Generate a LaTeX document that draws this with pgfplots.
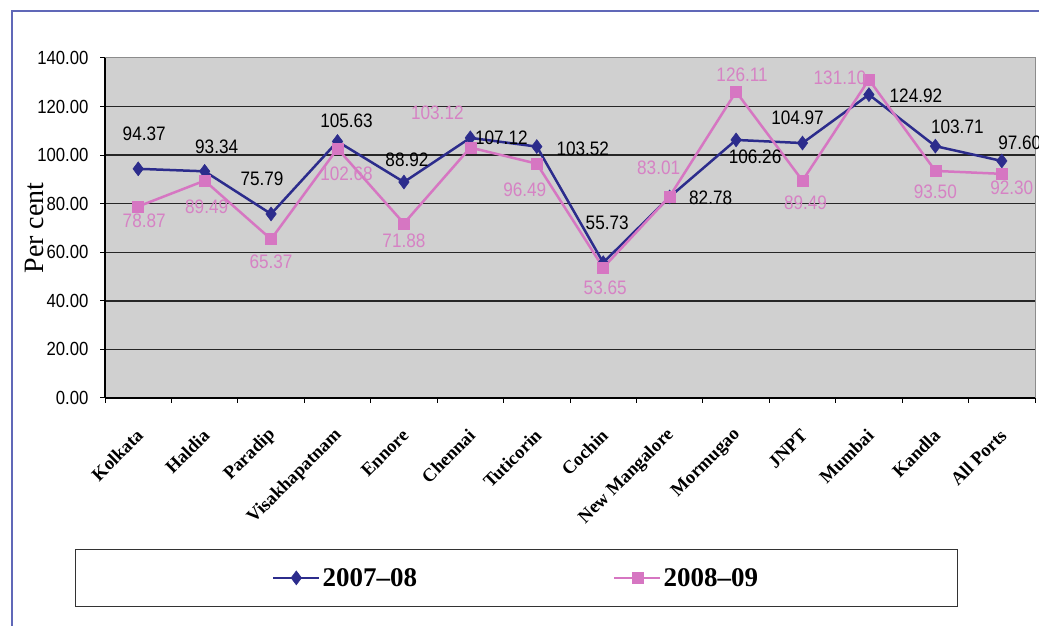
\documentclass[border=0pt]{standalone}
\usepackage{fontspec}
\setmainfont{Liberation Serif}
\newfontfamily\numfont[FakeStretch=0.88]{Liberation Sans}
\usepackage{pgfplots}
\pgfplotsset{compat=1.18}
\usepackage{pgfplotstable}

\definecolor{seriesA}{RGB}{44,44,140}
\definecolor{seriesB}{RGB}{214,118,194}
\definecolor{labelB}{RGB}{214,130,196}
\definecolor{plotbg}{RGB}{208,208,208}
\definecolor{framecol}{RGB}{96,104,184}

% port index, value (per cent), label offset dx, dy
\pgfplotstableread{
x  y      dx  dy
1  94.37   6  35
2  93.34  12  25
3  75.79  -9  35
4  105.63  9  21
5  88.92   3  22
6  107.12 31   0
7  103.52 46  -2
8  55.73   4  40
9  82.78  41  -1
10 106.26 19 -17
11 104.97 -5  25
12 124.92 47  -1
13 103.71 22  19
14 97.60  18  18
}\tabA

\pgfplotstableread{
x  y      dx  dy
1  78.87   6 -14
2  89.49   2 -26
3  65.37   0 -23
4  102.68  9 -25
5  71.88   0 -17
6  103.12 -33 35
7  96.49 -12 -26
8  53.65   2 -20
9  83.01 -11  29
10 126.11  6  17
11 89.49   3 -22
12 131.10 -29  2
13 93.50   0 -21
14 92.30  10 -14
}\tabB

\begin{document}
\begin{tikzpicture}
\useasboundingbox (0pt,0pt) rectangle (1039pt,626pt);
\draw[framecol, line width=1.4pt] (12pt,-10pt) -- (12pt,615pt) -- (1050pt,615pt);
\begin{axis}[
  at={(105pt,228pt)}, anchor=south west,
  scale only axis, width=930pt, height=340pt,
  xmin=0.5, xmax=14.5, ymin=0, ymax=140,
  axis background/.style={fill=plotbg, draw=black!45, line width=1pt},
  axis x line*=bottom, axis y line*=left,
  axis line style={black, line width=1.2pt},
  tick align=outside,
  tick style={black, line width=1pt},
  major tick length=5pt,
  % tick marks between the categories
  xtick={0.5,1.5,...,14.5},
  xticklabels={},
  % category names
  extra x ticks={1,2,...,14},
  extra x tick labels={Kolkata,Haldia,Paradip,Visakhapatnam,Ennore,Chennai,Tuticorin,Cochin,New Mangalore,Mormugao,JNPT,Mumbai,Kandla,All Ports},
  extra x tick style={major tick length=0pt},
  xticklabel style={font=\bfseries\fontsize{18.5}{20}\selectfont, xshift=4pt, yshift=-32pt, rotate=45, anchor=east},
  ytick={0,20,...,120},
  extra y ticks={140},
  extra y tick style={grid=none},
  ymajorgrids,
  major grid style={black!85, line width=1.4pt},
  yticklabel={\pgfmathprintnumber[fixed,fixed zerofill,precision=2,assume math mode=true]{\tick}},
  yticklabel style={font=\numfont\fontsize{19}{21}\selectfont, xshift=-8pt},
  ylabel={Per cent},
  every axis y label/.style={at={(axis description cs:-0.0753,0.5)}, rotate=90, anchor=center, font=\fontsize{28}{30}\selectfont},
  legend columns=2,
  legend style={at={(0.442,-0.529)}, anchor=center, draw=black!80, line width=1pt,
    inner xsep=197pt, inner ysep=17pt,
    font=\bfseries\fontsize{27}{30}\selectfont,
    /tikz/every even column/.append style={column sep=194pt}},
  legend image code/.code={
    \draw[mark repeat=2,mark phase=2] plot coordinates {(0pt,0pt) (23pt,0pt) (46pt,0pt)};
  },
]
\addplot[seriesA, line width=2.5pt, mark=diamond*, mark size=7pt,
  mark options={solid, fill=seriesA, line width=0.5pt},
  point meta=explicit,
  visualization depends on={\thisrow{dx}\as\labdx},
  visualization depends on={\thisrow{dy}\as\labdy},
  nodes near coords={\pgfmathprintnumber[fixed,fixed zerofill,precision=2,assume math mode=true]{\pgfplotspointmeta}},
  nodes near coords style={anchor=center, xshift=\labdx pt, yshift=\labdy pt,
    font=\numfont\fontsize{19.5}{21}\selectfont, text=black}]
  table[x=x, y=y, meta=y] {\tabA};
\addlegendentry{2007--08}
\addplot[seriesB, line width=2.5pt, mark=square*, mark size=5.5pt,
  mark options={solid, fill=seriesB, line width=0.5pt},
  point meta=explicit,
  visualization depends on={\thisrow{dx}\as\labdx},
  visualization depends on={\thisrow{dy}\as\labdy},
  nodes near coords={\pgfmathprintnumber[fixed,fixed zerofill,precision=2,assume math mode=true]{\pgfplotspointmeta}},
  nodes near coords style={anchor=center, xshift=\labdx pt, yshift=\labdy pt,
    font=\numfont\fontsize{19.5}{21}\selectfont, text=labelB}]
  table[x=x, y=y, meta=y] {\tabB};
\addlegendentry{2008--09}
\end{axis}
\end{tikzpicture}
\end{document}
